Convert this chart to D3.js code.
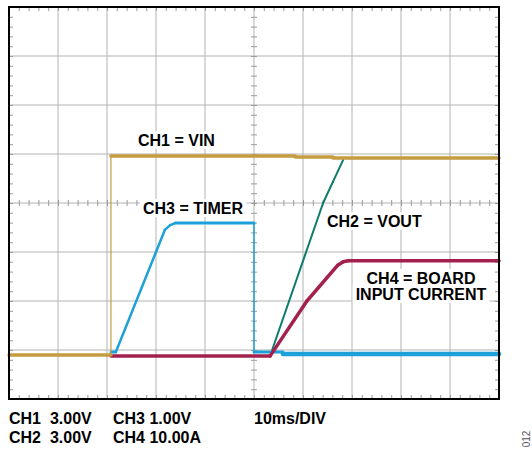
<!DOCTYPE html>
<html>
<head>
<meta charset="utf-8">
<script src="https://cdn.jsdelivr.net/npm/d3@7"></script>
<style>
  html, body { margin: 0; padding: 0; background: #fff; }
  svg text { font-family: "Liberation Sans", Arial, sans-serif; }
</style>
</head>
<body>
<svg id="scope" width="532" height="451"></svg>
<script>
"use strict";

// screen is 10 x 8 divisions, time in ms (10ms/DIV), levels in divisions from bottom
const CH1_T = [0, 20.8, 20.8, 58.4, 58.4, 66.1, 66.1, 100];
const CH1_V = [0.90, 0.90, 4.96, 4.96, 4.94, 4.94, 4.92, 4.92];

const CH3_T = [20.8, 21.8, 30.0, 31.8, 32.9, 33.9, 50.0, 50.0, 55.9, 55.9, 100];
const CH3_V = [0.96, 0.96, 3.00, 3.45, 3.55, 3.59, 3.59, 0.96, 0.96, 0.92, 0.92];

const CH2_T = [53.7, 64.1, 66.1, 68.2];
const CH2_V = [1.00, 4.00, 4.43, 4.88];

const CH4_T = [20.8, 53.3, 60.8, 67.1, 68.2, 69.2, 100];
const CH4_V = [0.88, 0.88, 2.00, 2.73, 2.80, 2.82, 2.82];

const TRACE_LABELS = [
  {text: "CH1 = VIN", x: 138, y: 146},
  {text: "CH3 = TIMER", x: 143, y: 214},
  {text: "CH2 = VOUT", x: 327, y: 227},
  {text: "CH4 = BOARD", x: 421, y: 284, anchor: "middle"},
  {text: "INPUT CURRENT", x: 421, y: 300, anchor: "middle"}
];
const SCALE_LABELS = ["CH1  3.00V", "CH2  3.00V", "CH3 1.00V", "CH4 10.00A", "10ms/DIV"];

const scrLeft = 9, scrRight = 499, scrTop = 7, scrBottom = 399;

const svg = d3.select("#scope");
const x = d3.scaleLinear().domain([0, 100]).range([scrLeft, scrRight]);
const y = d3.scaleLinear().domain([0, 8]).range([scrBottom, scrTop]);

// grid
const grid = svg.append("g").attr("stroke", "#b3b3b3").attr("stroke-width", 1);
grid.selectAll("line.v").data(d3.range(10, 100, 10)).join("line")
  .attr("class", "v")
  .attr("x1", d => x(d)).attr("x2", d => x(d)).attr("y1", scrTop).attr("y2", scrBottom);
grid.selectAll("line.h").data(d3.range(1, 8)).join("line")
  .attr("class", "h")
  .attr("y1", d => y(d)).attr("y2", d => y(d)).attr("x1", scrLeft).attr("x2", scrRight);

// minor ticks using axes
const xMinor = d3.range(0, 100.01, 2);
const yMinor = d3.range(0, 8.01, 0.2);
function minorAxis(axis, size, vals) {
  return axis.tickValues(vals).tickFormat("").tickSizeInner(size).tickSizeOuter(0);
}
function styleAxis(sel) {
  sel.select(".domain").remove();
  sel.selectAll(".tick line").attr("stroke", "#9a9a9a");
}
svg.append("g").attr("transform", `translate(0,${scrTop})`)
  .call(minorAxis(d3.axisBottom(x), 4, xMinor)).call(styleAxis);
svg.append("g").attr("transform", `translate(0,${scrBottom})`)
  .call(minorAxis(d3.axisTop(x), 4, xMinor)).call(styleAxis);
svg.append("g").attr("transform", `translate(${scrLeft},0)`)
  .call(minorAxis(d3.axisRight(y), 4, yMinor)).call(styleAxis);
svg.append("g").attr("transform", `translate(${scrRight},0)`)
  .call(minorAxis(d3.axisLeft(y), 4, yMinor)).call(styleAxis);
svg.append("g").attr("transform", `translate(0,${y(4) - 3})`)
  .call(minorAxis(d3.axisBottom(x), 6, xMinor)).call(styleAxis);
svg.append("g").attr("transform", `translate(${x(50) - 3},0)`)
  .call(minorAxis(d3.axisRight(y), 6, yMinor)).call(styleAxis);

// traces
function drawTrace(t, v, color, w) {
  const g = svg.append("g").attr("fill", "none").attr("stroke", color);
  for (let i = 0; i < t.length - 1; i++) {
    let kind = v[i] === v[i + 1] ? "flat" : (t[i] === t[i + 1] ? "edge" : "ramp");
    let width = w[kind];
    if (kind === "flat" && w.lastFlat && i === t.length - 2) width = w.lastFlat;
    g.append("path")
      .attr("d", d3.line()([[x(t[i]), y(v[i])], [x(t[i + 1]), y(v[i + 1])]]))
      .attr("stroke-width", width)
      .attr("stroke-linecap", kind === "edge" ? "butt" : "round");
  }
}
drawTrace(CH3_T, CH3_V, "#1da1d8", {flat: 3, edge: 1.5, ramp: 2.5, lastFlat: 4.5});
drawTrace(CH2_T, CH2_V, "#0d7b6e", {flat: 2, edge: 1.5, ramp: 2});
drawTrace(CH4_T, CH4_V, "#a3214e", {flat: 3.5, edge: 1.5, ramp: 3.5});
drawTrace(CH1_T, CH1_V, "#c59c3f", {flat: 3.5, edge: 1.2, ramp: 2});

// frame
svg.append("rect").attr("x", scrLeft).attr("y", scrTop)
  .attr("width", scrRight - scrLeft).attr("height", scrBottom - scrTop)
  .attr("fill", "none").attr("stroke", "#000").attr("stroke-width", 2);

// trace labels with white backing
TRACE_LABELS.forEach(l => {
  const g = svg.append("g");
  const txt = g.append("text").attr("x", l.x).attr("y", l.y)
    .attr("text-anchor", l.anchor || "start")
    .attr("font-size", 16).attr("font-weight", "bold").attr("fill", "#000")
    .text(l.text);
  const b = txt.node().getBBox();
  g.insert("rect", "text").attr("x", b.x - 3).attr("y", b.y - 1)
    .attr("width", b.width + 6).attr("height", b.height + 1).attr("fill", "#fff");
});

// scale settings under the screen
const scalePos = [[9, 424], [9, 443], [113, 424], [113, 443], [254, 424]];
svg.selectAll("text.scale").data(SCALE_LABELS).join("text")
  .attr("class", "scale")
  .attr("x", (d, i) => scalePos[i][0]).attr("y", (d, i) => scalePos[i][1])
  .attr("font-size", 16).attr("font-weight", "bold").attr("fill", "#000")
  .style("white-space", "pre")
  .text(d => d);

svg.append("text")
  .attr("transform", "translate(530,439) rotate(-90)")
  .attr("text-anchor", "middle")
  .attr("font-size", 10).attr("fill", "#555")
  .text("012");
</script>
</body>
</html>
